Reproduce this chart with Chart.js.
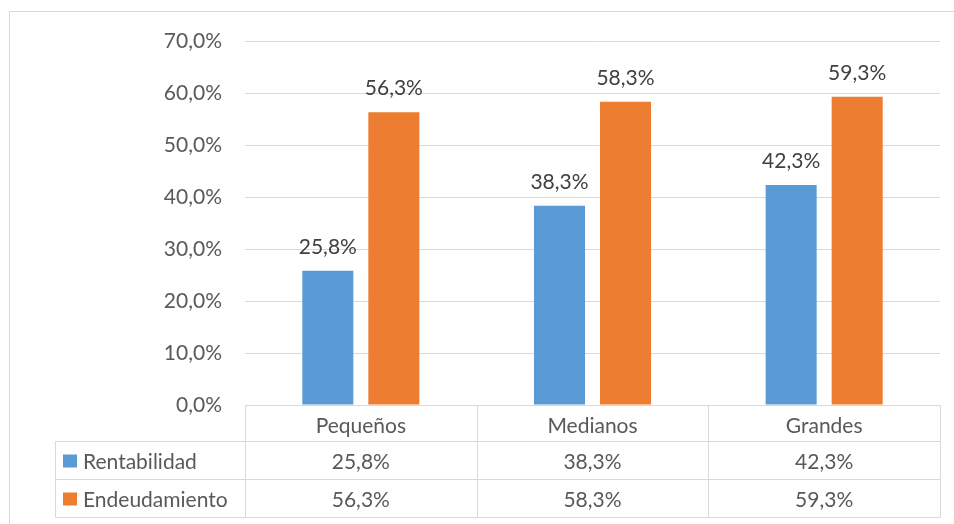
<!DOCTYPE html>
<html>
<head>
<meta charset="utf-8">
<script src="https://cdn.jsdelivr.net/npm/chart.js@4/dist/chart.umd.min.js"></script>
<style>
  html, body { margin: 0; padding: 0; background: #fff; }
  #wrap { position: relative; width: 954px; height: 524px; }
</style>
</head>
<body>
<div id="wrap"><canvas id="chart" width="954" height="524"></canvas></div>
<script>
'use strict';

// ── Data ──
const categories    = ['Pequeños', 'Medianos', 'Grandes'];
const seriesNames   = ['Rentabilidad', 'Endeudamiento'];
const rentabilidad  = [25.8, 38.3, 42.3];
const endeudamiento = [56.3, 58.3, 59.3];
const yMax = 70;
const yStep = 10;

const COLORS = ['#5b9bd5', '#ed7d31'];
const FONT = 'Lato, "Open Sans", sans-serif';
const GRID = '#d9d9d9';
const TEXT = '#595959';

const fmt = v => v.toFixed(1).replace('.', ',') + '%';

// ── Outer frame, data labels and the data table under the axis ──
const tablePlugin = {
  id: 'tablePlugin',
  beforeDraw(chart) {
    const ctx = chart.ctx;
    ctx.save();
    ctx.strokeStyle = GRID;
    ctx.lineWidth = 1;
    ctx.strokeRect(9.5, 11.5, 980, 560);
    ctx.restore();
  },
  afterDatasetsDraw(chart) {
    const ctx = chart.ctx;
    ctx.save();
    ctx.font = '21px ' + FONT;
    ctx.fillStyle = '#404040';
    ctx.textAlign = 'center';
    ctx.textBaseline = 'alphabetic';
    chart.data.datasets.forEach((ds, di) => {
      chart.getDatasetMeta(di).data.forEach((bar, i) => {
        ctx.fillText(fmt(ds.data[i]), bar.x, bar.y - 17);
      });
    });
    ctx.restore();
  },
  afterDraw(chart) {
    const ctx = chart.ctx;
    const xs = chart.scales.x;
    const area = chart.chartArea;
    const n = categories.length;
    const cw = (area.right - area.left) / n;
    const cols = [];
    for (let i = 0; i <= n; i++) cols.push(Math.round(area.left + cw * i) + 0.5);

    const top = Math.round(area.bottom) + 0.5;
    const rowH = [36, 38, 38];
    const r1 = top + rowH[0], r2 = r1 + rowH[1], r3 = r2 + rowH[2];
    const leftX = 55.5;

    ctx.save();
    ctx.strokeStyle = GRID;
    ctx.lineWidth = 1;
    ctx.beginPath();
    // header row
    ctx.moveTo(cols[0], top); ctx.lineTo(cols[n], top);
    // row separators
    [r1, r2, r3].forEach(y => { ctx.moveTo(leftX, y); ctx.lineTo(cols[n], y); });
    // verticals
    ctx.moveTo(leftX, r1); ctx.lineTo(leftX, r3);
    cols.forEach(x => { ctx.moveTo(x, top); ctx.lineTo(x, r3); });
    ctx.stroke();

    ctx.font = '21px ' + FONT;
    ctx.fillStyle = TEXT;
    ctx.textAlign = 'center';
    ctx.textBaseline = 'alphabetic';
    categories.forEach((c, i) => {
      const cx = xs.getPixelForValue(i);
      ctx.fillText(c, cx, top + 27);
    });
    const rows = [rentabilidad, endeudamiento];
    const baselines = [r1 + 27, r2 + 27];
    rows.forEach((vals, ri) => {
      ctx.textAlign = 'center';
      vals.forEach((v, i) => {
        ctx.fillText(fmt(v), xs.getPixelForValue(i), baselines[ri]);
      });
      ctx.fillStyle = COLORS[ri];
      ctx.fillRect(63, baselines[ri] - 14, 14, 13);
      ctx.fillStyle = TEXT;
      ctx.textAlign = 'left';
      ctx.fillText(seriesNames[ri], 83, baselines[ri]);
    });
    ctx.restore();
  }
};

new Chart(document.getElementById('chart'), {
  type: 'bar',
  data: {
    labels: categories,
    datasets: [
      { label: seriesNames[0], data: rentabilidad, backgroundColor: COLORS[0] },
      { label: seriesNames[1], data: endeudamiento, backgroundColor: COLORS[1] },
    ],
  },
  options: {
    responsive: false,
    animation: false,
    devicePixelRatio: 1,
    layout: { padding: { left: 0, right: 14, top: 41, bottom: 0 } },
    datasets: { bar: { categoryPercentage: 0.57, barPercentage: 0.773 } },
    plugins: { legend: { display: false }, tooltip: { enabled: false } },
    scales: {
      x: {
        grid: { display: false },
        border: { display: false },
        ticks: { display: false },
        afterFit(s) { s.height = 119; },
      },
      y: {
        min: 0,
        max: yMax,
        ticks: {
          stepSize: yStep,
          padding: 23,
          color: TEXT,
          font: { family: FONT, size: 21 },
          callback: v => fmt(v),
        },
        grid: { color: GRID, lineWidth: 1, drawTicks: false },
        border: { display: false },
        afterFit(s) { s.width = 245; },
      },
    },
  },
  plugins: [tablePlugin],
});
</script>
</body>
</html>
